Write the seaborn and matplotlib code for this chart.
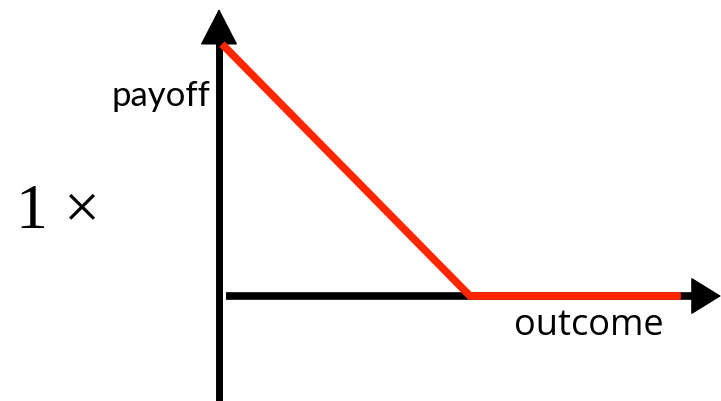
import pandas as pd
import matplotlib
matplotlib.use("Agg")
import matplotlib.pyplot as plt
import seaborn as sns

# payoff of a single put: max(K - outcome, 0), K = 1
outcome = [0.0, 1.0, 1.85]
payoff = [1.0, 0.0, 0.0]
multiplier_label = "1 \u00d7"
x_label = "outcome"
y_label = "payoff"

RED = "#ff2600"
LW = 5.5

sns.set_theme(style="white")
df = pd.DataFrame({"outcome": outcome, "payoff": payoff})

fig = plt.figure(figsize=(7.21, 4.02), dpi=100)
ax = fig.add_axes([0, 0, 1, 1])
ax.set_xlim(-0.895, 2.012)
ax.set_ylim(-0.4167, 1.1786)
ax.axis("off")

# axes drawn as arrows
xa = -0.012
ax.plot([xa, xa], [-0.45, 1.02], color="black", lw=5, solid_capstyle="butt")
ax.annotate("", xy=(xa, 1.139), xytext=(xa, 1.0),
            arrowprops=dict(arrowstyle="-|>,head_length=1.2,head_width=0.62",
                            mutation_scale=20, color="black", lw=1,
                            shrinkA=0, shrinkB=0))
ax.plot([0.016, 1.95], [0, 0], color="black", lw=LW, solid_capstyle="butt")
ax.annotate("", xy=(2.012, 0), xytext=(1.9, 0),
            arrowprops=dict(arrowstyle="-|>,head_length=1.0,head_width=0.62",
                            mutation_scale=20, color="black", lw=1,
                            shrinkA=0, shrinkB=0))

sns.lineplot(data=df, x="outcome", y="payoff", color=RED, lw=LW, ax=ax,
             sort=False, estimator=None)
for ln in ax.lines[-1:]:
    ln.set_solid_capstyle("butt")
    ln.set_zorder(5)

ax.text(-0.048, 0.758, y_label, ha="right", va="baseline",
        fontsize=25, family="Lato", color="black")
ax.text(1.48, -0.151, x_label, ha="center", va="baseline",
        fontsize=26, family="Open Sans", color="black")
ax.text(-0.663, 0.274, multiplier_label, ha="center", va="baseline",
        fontsize=46, family="Liberation Serif", color="black")

fig.savefig("out.png", dpi=100)
plt.close(fig)
